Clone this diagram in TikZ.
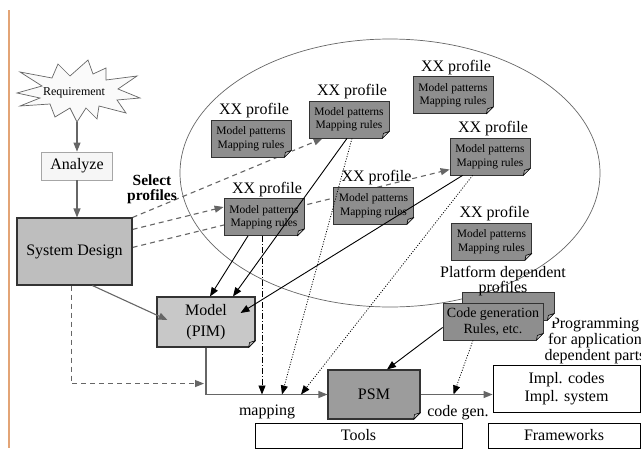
\documentclass[tikz,border=0pt]{standalone}
\usepackage{fontspec}
\setmainfont{Liberation Serif}
\usetikzlibrary{calc,arrows.meta}

\pgfdeclarelayer{bg}
\pgfsetlayers{bg,main}

\definecolor{lineg}{HTML}{666666}
\definecolor{profg}{HTML}{8E8E8E}
\definecolor{sysg}{HTML}{BEBEBE}
\definecolor{pimg}{HTML}{C8C8C8}
\definecolor{psmg}{HTML}{9C9C9C}
\definecolor{edgeg}{HTML}{333333}
\definecolor{marginrule}{HTML}{E3A476}

\tikzset{
  big/.style={font=\fontsize{16}{19}\selectfont},
  profbox/.style={draw=edgeg, fill=profg, line width=0.8pt, minimum width=80pt,
    minimum height=37pt, inner sep=1pt, align=center,
    font=\fontsize{11.5}{13.5}\selectfont},
  ptitle/.style={font=\fontsize{16}{19}\selectfont, inner sep=0pt},
  plainbox/.style={draw=black, fill=white, line width=0.8pt, big, align=center},
  tipg/.style={-{Triangle[length=9pt,width=7pt]}},
  garrow/.style={draw=lineg, fill=none, line width=1.1pt, tipg, color=lineg},
  gdash/.style={garrow, dash pattern=on 5pt off 4pt},
  barrow/.style={draw=black, line width=0.9pt, tipg},
  bdot/.style={barrow, line width=0.8pt, dash pattern=on 1pt off 1.6pt},
  bdashdot/.style={barrow, line width=0.8pt, dash pattern=on 6pt off 2pt on 1pt off 2pt},
}

% folded corner at the lower right of a note-like box
\newcommand\dogear[1]{%
  \fill[white] ($(#1.south east)+(-7,0.6)$) -- ($(#1.south east)+(0.6,0.6)$) -- ($(#1.south east)+(0.6,-7)$) -- cycle;
  \filldraw[fill=gray!55, draw=black, line width=0.6pt, line join=round]
    ($(#1.south east)+(-7,0)$) -- ($(#1.south east)+(0,-7)$) -- ($(#1.south east)+(-6,-5)$) -- cycle;
}

\begin{document}
\begin{tikzpicture}[x=1pt,y=-1pt]
\useasboundingbox (0,0) rectangle (641,450);

% margin rule
\draw[marginrule, line width=1.6pt] (9,10) -- (9,448);

% requirement burst
\node[font=\fontsize{12}{14}\selectfont, inner sep=0pt] (req) at (74,93) {Requirement};
\coordinate (reqtip) at (77,122);
\begin{pgfonlayer}{bg}
\filldraw[fill=gray!4, draw=lineg, line width=0.7pt, line join=miter]
  (17,93) -- (42,86) -- (20,72) -- (52,78) -- (58,64) -- (70,76) -- (88,60) -- (93,74)
  -- (106,68) -- (106,80) -- (137,76) -- (118,89) -- (140,98) -- (117,100) -- (126,113)
  -- (99,106) -- (97,119) -- (86,108) -- (reqtip) -- (70,108) -- (55,117) -- (50,104)
  -- (20,106) -- (40,98) -- cycle;
\end{pgfonlayer}

% process boxes on the left
\node[draw=gray!70, fill=gray!7, line width=0.8pt, minimum width=71pt, minimum height=28pt, big] (analyze) at (77,166) {Analyze};
\node[draw=edgeg, fill=sysg, line width=1.1pt, minimum width=115pt, minimum height=67pt, big] (sys) at (74.5,251.5) {System Design};
\node[font=\bfseries\fontsize{15.5}{15}\selectfont, align=center, inner sep=0pt] (sel) at (152,189) {Select\\profiles};

% profile notes
\node[profbox] (p1) at (251,138.5) {Model patterns\\Mapping rules};
\node[profbox] (p2) at (349,119.5) {Model patterns\\Mapping rules};
\node[profbox] (p3) at (453,95) {Model patterns\\Mapping rules};
\node[profbox] (p4) at (490,156.5) {Model patterns\\Mapping rules};
\node[profbox] (p5) at (491.5,241.5) {Model patterns\\Mapping rules};
\node[profbox] (p6) at (373.5,205.5) {Model patterns\\Mapping rules};
\node[profbox] (p7) at (264,217) {Model patterns\\Mapping rules};
\foreach \p in {p1,p2,p3,p4,p5,p6,p7} {
  \node[ptitle] (t\p) at ($(\p.north)+(3,-9)$) {XX profile};
}

% models
\node[draw=edgeg, fill=pimg, line width=1.1pt, minimum width=98pt, minimum height=50pt, big, align=center, font=\fontsize{16}{21}\selectfont] (pim) at (206,322) {Model\\(PIM)};
\node[draw=edgeg, fill=psmg, line width=1.1pt, minimum width=92pt, minimum height=49pt, big] (psm) at (374,394.5) {PSM};

% platform dependent profiles
\node[draw=edgeg, fill=profg, line width=0.8pt, minimum width=92pt, minimum height=28pt] (plb) at (508,306) {};
\node[draw=edgeg, fill=profg, line width=0.8pt, minimum width=100pt, minimum height=37pt, align=center, inner sep=1pt, font=\fontsize{14}{16}\selectfont] (plf) at (493,321.5) {Code generation\\Rules, etc.};
\node[align=center, inner sep=0pt, font=\fontsize{16}{12}\selectfont] (pltitle) at (503,281) {Platform dependent\\profiles};

% implementation and supporting boxes
\node[plainbox, minimum width=147pt, minimum height=47pt, font=\fontsize{16}{18}\selectfont] (impl) at (566.5,388.5) {Impl. codes\\Impl. system};
\node[plainbox, minimum width=207pt, minimum height=25pt] (tools) at (358.5,435.5) {Tools};
\node[plainbox, minimum width=152pt, minimum height=25pt] (fw) at (564,435.5) {Frameworks};
\node[align=center, inner sep=0pt, font=\fontsize{16}{12}\selectfont] (prog) at (595,341) {Programming\\for application\\dependent parts};

% folded corners
\foreach \n in {p1,p2,p3,p4,p5,p6,p7,pim,psm,plb,plf} { \dogear{\n} }

% profile scope and selection lines, behind the notes
\begin{pgfonlayer}{bg}
\draw[lineg, line width=0.7pt] (390,173) ellipse [x radius=210, y radius=134];
\draw[gdash] (sys.north east) -- ($(p2.south west)+(14,0)$);
\draw[gdash] ($(sys.north east)+(0,12)$) -- ($(p7.west)+(0,-10)$);
\draw[gdash] ($(sys.north east)+(0,30)$) -- ($(p4.west)+(0,13)$);
\end{pgfonlayer}

% design flow
\draw[garrow] (reqtip) -- (analyze.north);
\draw[garrow] (analyze.south) -- (analyze.south |- sys.north);
\draw[garrow] ($(sys.south west)+(76,0)$) -- ($(pim.west)+(11,-2)$);
\draw[gdash] ($(sys.south west)+(55,0)$) |- ($(pim.south)+(-2,36)$);
\draw[garrow] (pim.south) |- (psm.west);
\coordinate (mapstart) at (pim.south |- psm.west);

% profiles applied to the model
\draw[barrow] ($(p7.south)+(-16,0)$) -- ($(pim.north)+(4,0)$);
\draw[barrow] ($(p2.south)+(-2,0)$) -- ($(pim.north)+(27,0)$);
\draw[barrow] ($(p4.south west)+(13,0)$) -- ($(pim.east)+(-15,-9)$);

% profiles used by the mapping
\coordinate (dd) at ($(p7.south)+(-2,0)$);
\draw[bdashdot] (dd) -- (dd |- psm.west);
\draw[bdot] ($(p2.south)+(3,0)$) -- ($(mapstart)+(76,0)$);
\draw[bdot] ($(p4.south west)+(23,0)$) -- ($(mapstart)+(95,0)$);

% platform profiles and code generation
\draw[barrow] ($(plf.west)+(0,6)$) -- ($(psm.north)+(13,0)$);
\draw[bdot] ($(plf.south)+(-20,0)$) -- ($(psm.east)+(33,0)$);
\draw[garrow] (psm.east) -- (psm.east -| impl.west);

% step labels
\node[big, inner sep=0pt] (maplbl) at (267,412) {mapping};
\node[big, inner sep=0pt] (cglbl) at (458,413) {code gen.};
\end{tikzpicture}
\end{document}
